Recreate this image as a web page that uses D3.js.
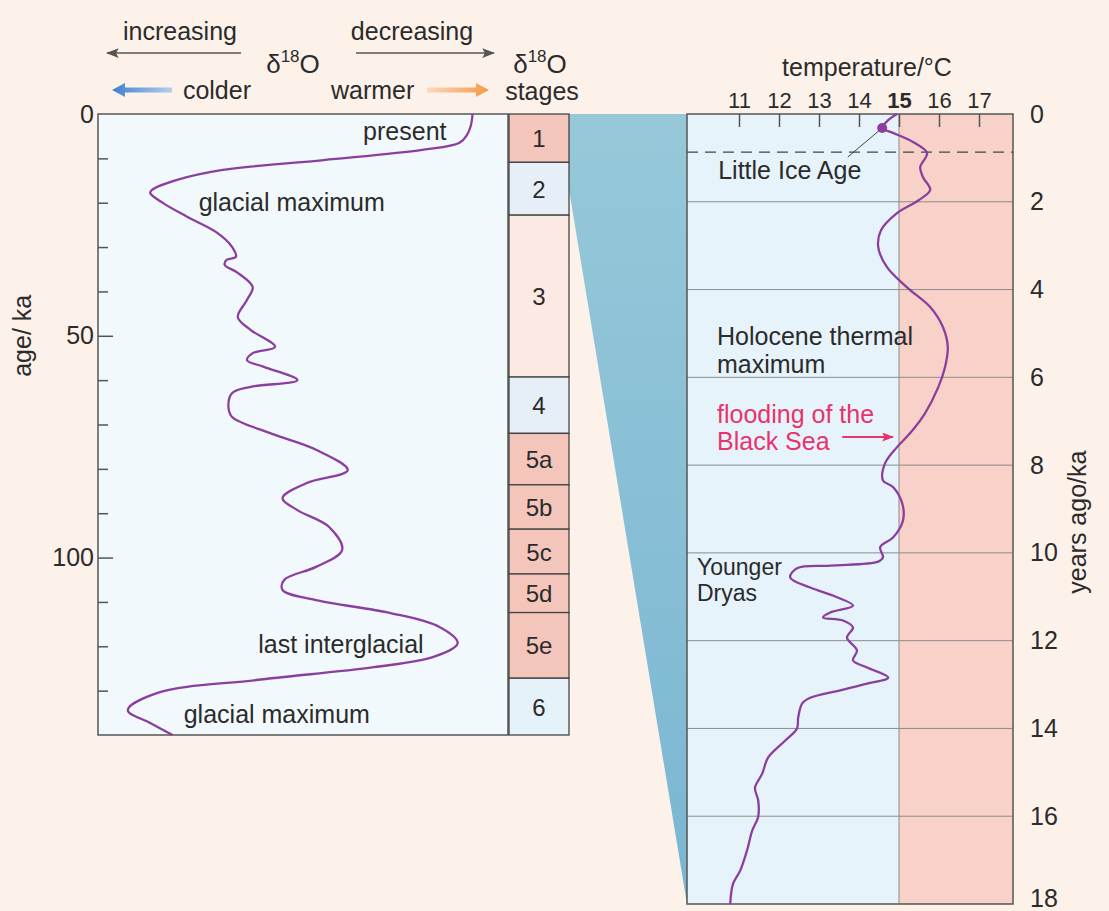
<!DOCTYPE html>
<html>
<head>
<meta charset="utf-8">
<script src="https://cdn.jsdelivr.net/npm/d3@7"></script>
<style>
  body { margin: 0; background: #fdf3eb; }
  text { font-family: "Liberation Sans", Arial, sans-serif; fill: #2b2b2b; }
</style>
</head>
<body>
<div id="chart"></div>
<script>
// SVG size
var svgWidth = 1109;
var svgHeight = 911;

// Left panel: d18O record, age in ka vs delta18O (arbitrary per mil scale)
var o18Age = [0, 2.7, 4.7, 6.5, 8.1, 10.4, 12.6, 14.9, 17.1, 17.8, 20.1, 23.2, 26.8, 30.0, 32.2, 32.9, 34.0, 35.8,
  39.0, 41.9, 45.8, 48.7, 52.5, 53.9, 55.5, 57.0, 60.0, 61.5, 62.9, 66.1, 68.3, 71.9, 75.7, 80.3, 83.2, 86.6,
  89.3, 93.1, 98.3, 102.1, 105.0, 107.3, 109.6, 112.5, 115.6, 119.3, 122.4, 124.7, 127.6, 130.5, 134.4, 137.3, 140];
var o18Value = [3.19, 3.20, 3.22, 3.26, 3.46, 3.99, 4.53, 4.78, 4.91, 4.92, 4.85, 4.72, 4.56, 4.48, 4.46, 4.51, 4.52, 4.45,
  4.37, 4.40, 4.45, 4.38, 4.25, 4.37, 4.40, 4.31, 4.13, 4.38, 4.48, 4.50, 4.48, 4.28, 4.03, 3.86, 4.08, 4.21,
  4.13, 3.96, 3.89, 4.03, 4.20, 4.21, 4.03, 3.63, 3.37, 3.27, 3.40, 3.72, 4.35, 4.88, 5.04, 4.92, 4.80];

// Marine isotope stages
var stageNames = ["1", "2", "3", "4", "5a", "5b", "5c", "5d", "5e", "6"];
var stageStart = [0, 10.9, 22.8, 59.3, 72, 83.6, 93.6, 103.7, 112.4, 127.2];
var stageEnd = [10.9, 22.8, 59.3, 72, 83.6, 93.6, 103.7, 112.4, 127.2, 140];
var stageKind = ["warm", "cold", "mild", "cold", "warm", "warm", "warm", "warm", "warm", "cold6"];

// Right panel: temperature over the last 18 ka
var tempAge = [0, 0.14, 0.32, 0.43, 0.64, 0.89, 1.21, 1.44, 1.73, 1.96, 2.26, 2.65, 3.03, 3.49, 3.95, 4.4, 4.86,
  5.31, 5.77, 6.23, 6.82, 7.27, 7.59, 7.96, 8.35, 8.5, 8.87, 9.26, 9.65, 9.87, 10.1, 10.2, 10.29, 10.35, 10.56,
  10.79, 11.01, 11.2, 11.36, 11.47, 11.54, 11.7, 11.93, 12.22, 12.45, 12.61, 12.84, 12.98, 13.13, 13.3, 13.43,
  13.75, 14.0, 14.28, 14.66, 15.03, 15.35, 15.64, 16.01, 16.33, 16.78, 17.24, 17.54, 18.0];
var tempValue = [14.95, 14.73, 14.58, 14.85, 15.35, 15.7, 15.53, 15.6, 15.78, 15.5, 14.95, 14.55, 14.48, 14.7, 15.2, 15.78, 16.1,
  16.22, 16.15, 15.98, 15.65, 15.28, 14.95, 14.65, 14.6, 14.85, 15.08, 15.1, 14.85, 14.53, 14.6, 14.48, 13.28, 12.45, 12.28,
  12.78, 13.45, 13.85, 13.28, 13.1, 13.6, 13.85, 13.7, 13.95, 13.85, 14.2, 14.73, 14.2, 13.53, 12.78, 12.58,
  12.48, 12.45, 12.15, 11.73, 11.58, 11.4, 11.48, 11.48, 11.33, 11.2, 11.03, 10.85, 10.78];

var tempTicks = [11, 12, 13, 14, 15, 16, 17];
var kaTicks = [0, 2, 4, 6, 8, 10, 12, 14, 16, 18];
var ageTicksMajor = [0, 50, 100];
var ageTicksMinor = [10, 20, 30, 40, 60, 70, 80, 90, 110, 120, 130];

// Little Ice Age marker and Black Sea flooding
var liaAge = 0.32, liaTemp = 14.58, liaBoundary = 0.87;
var floodAge = 7.36;
var zoomAge = 17;

var purple = "#8a3f9f";
var red = "#e8336b";
var fontSize = 25;

var svg = d3.select("#chart")
  .append("svg")
  .attr("width", svgWidth)
  .attr("height", svgHeight);

svg.append("rect")
  .attr("width", svgWidth)
  .attr("height", svgHeight)
  .attr("fill", "#fdf2ea");

var defs = svg.append("defs");
var grad = defs.append("linearGradient")
  .attr("id", "wedge")
  .attr("x1", 0).attr("y1", 0).attr("x2", 0).attr("y2", 1);
grad.append("stop").attr("offset", "0%").attr("stop-color", "#96c8d9");
grad.append("stop").attr("offset", "100%").attr("stop-color", "#7ab6d2");

var arrowDefs = [["arrowGray", "#555", 13], ["arrowRed", red, 12]];
arrowDefs.forEach(function (a) {
  defs.append("marker")
    .attr("id", a[0])
    .attr("viewBox", "0 0 10 10")
    .attr("refX", 9).attr("refY", 5)
    .attr("markerWidth", a[2]).attr("markerHeight", a[2] * 0.75)
    .attr("markerUnits", "userSpaceOnUse")
    .attr("orient", "auto")
    .attr("preserveAspectRatio", "none")
    .append("path")
    .attr("d", "M0,0 L10,5 L0,10 L2,5 Z")
    .attr("fill", a[1]);
});

// ---------- scales ----------
var yAge = d3.scaleLinear().domain([0, 140]).range([114, 735]);
var xO = d3.scaleLinear().domain([5.2, 3.0]).range([98, 508]);
var stageX0 = 509, stageX1 = 569;

var yKa = d3.scaleLinear().domain([0, 18]).range([114, 904]);
var xT = d3.scaleLinear().domain([11, 17]).range([739, 979]);
var tMin = 9.7, tMax = 17.85;

// ---------- zoom wedge ----------
svg.append("path")
  .attr("d", "M" + stageX1 + "," + yAge(0) +
    " L" + xT(tMin) + "," + yKa(0) +
    " L" + xT(tMin) + "," + yKa(18) +
    " L" + stageX1 + "," + yAge(zoomAge) + " Z")
  .attr("fill", "url(#wedge)");

// ---------- left panel ----------
var left = svg.append("g");

left.append("rect")
  .attr("x", xO(5.2))
  .attr("y", yAge(0))
  .attr("width", xO(3.0) - xO(5.2))
  .attr("height", yAge(140) - yAge(0))
  .attr("fill", "#f2f9fc")
  .attr("stroke", "#555")
  .attr("stroke-width", 1.5);

var minorAxis = left.append("g")
  .attr("transform", `translate(${xO(5.2)},0)`)
  .call(d3.axisLeft(yAge).tickValues(ageTicksMinor).tickSize(-10).tickFormat(""));
var majorAxis = left.append("g")
  .attr("transform", `translate(${xO(5.2)},0)`)
  .call(d3.axisLeft(yAge).tickValues(ageTicksMajor).tickSize(-15).tickPadding(4));
[minorAxis, majorAxis].forEach(function (ax) {
  ax.select(".domain").remove();
  ax.selectAll("line").attr("stroke", "#555").attr("stroke-width", 1.5);
  ax.selectAll("text").attr("font-size", fontSize).attr("fill", "#2b2b2b")
    .attr("font-family", "Liberation Sans, Arial, sans-serif");
});
majorAxis.selectAll(".tick").filter(d => d === 0).select("line").remove();

left.append("text")
  .attr("transform", `translate(31,${yAge(50)}) rotate(-90)`)
  .attr("text-anchor", "middle")
  .attr("font-size", fontSize)
  .text("age/ ka");

var o18Data = o18Age.map((a, i) => ({ age: a, v: o18Value[i] }));
var o18Line = d3.line()
  .x(d => xO(d.v))
  .y(d => yAge(d.age))
  .curve(d3.curveCatmullRom.alpha(0.5));

left.append("path")
  .datum(o18Data)
  .attr("d", o18Line)
  .attr("fill", "none")
  .attr("stroke", purple)
  .attr("stroke-width", 2.3);

var leftNotes = [
  ["present", 3.33, 5.9, "end"],
  ["glacial maximum", 4.66, 21.9, "start"],
  ["last interglacial", 4.34, 121.5, "start"],
  ["glacial maximum", 4.74, 137.3, "start"]
];
left.selectAll(".note")
  .data(leftNotes)
  .enter()
  .append("text")
  .attr("x", d => xO(d[1]))
  .attr("y", d => yAge(d[2]))
  .attr("text-anchor", d => d[3])
  .attr("font-size", fontSize)
  .text(d => d[0]);

// ---------- stages ----------
var stageColors = { warm: "#f3c5bb", cold: "#e6eef8", mild: "#fde9e4", cold6: "#e6f2f9" };
var stages = svg.append("g");
stages.selectAll("rect")
  .data(stageNames)
  .enter()
  .append("rect")
  .attr("x", stageX0)
  .attr("y", (d, i) => yAge(stageStart[i]))
  .attr("width", stageX1 - stageX0)
  .attr("height", (d, i) => yAge(stageEnd[i]) - yAge(stageStart[i]))
  .attr("fill", (d, i) => stageColors[stageKind[i]])
  .attr("stroke", "#444")
  .attr("stroke-width", 1.3);
stages.selectAll("text")
  .data(stageNames)
  .enter()
  .append("text")
  .attr("x", (stageX0 + stageX1) / 2)
  .attr("y", (d, i) => (yAge(stageStart[i]) + yAge(stageEnd[i])) / 2 + 9)
  .attr("text-anchor", "middle")
  .attr("font-size", 24)
  .text(d => d);

// ---------- header of left panel ----------
var head = svg.append("g");
head.append("text").attr("x", 180).attr("y", 40).attr("text-anchor", "middle")
  .attr("font-size", fontSize).text("increasing");
head.append("text").attr("x", 412).attr("y", 40).attr("text-anchor", "middle")
  .attr("font-size", fontSize).text("decreasing");
head.append("line").attr("x1", 241).attr("x2", 107).attr("y1", 53).attr("y2", 53)
  .attr("stroke", "#555").attr("stroke-width", 1.6).attr("marker-end", "url(#arrowGray)");
head.append("line").attr("x1", 356).attr("x2", 494).attr("y1", 53).attr("y2", 53)
  .attr("stroke", "#555").attr("stroke-width", 1.6).attr("marker-end", "url(#arrowGray)");

var d18 = function (g, x, y) {
  var t = g.append("text").attr("x", x).attr("y", y).attr("text-anchor", "middle").attr("font-size", 26);
  t.append("tspan").text("δ");
  t.append("tspan").attr("font-size", 17).attr("dy", -11).text("18");
  t.append("tspan").attr("dy", 11).text("O");
};
d18(head, 293, 73);
d18(head, 540, 73);
head.append("text").attr("x", 542).attr("y", 100).attr("text-anchor", "middle")
  .attr("font-size", fontSize).text("stages");
head.append("text").attr("x", 251).attr("y", 99).attr("text-anchor", "end")
  .attr("font-size", fontSize).text("colder");
head.append("text").attr("x", 331).attr("y", 99).attr("text-anchor", "start")
  .attr("font-size", fontSize).text("warmer");

var cg = defs.append("linearGradient").attr("id", "cold");
cg.append("stop").attr("offset", "0%").attr("stop-color", "#3f7fd0");
cg.append("stop").attr("offset", "100%").attr("stop-color", "#b5d0ee");
var wg = defs.append("linearGradient").attr("id", "warm");
wg.append("stop").attr("offset", "0%").attr("stop-color", "#fbd8bb");
wg.append("stop").attr("offset", "100%").attr("stop-color", "#f39a4a");
head.append("path").attr("d", "M112,90 L125,83 L125,87.5 L172,87.5 L172,92.5 L125,92.5 L125,97 Z").attr("fill", "url(#cold)");
head.append("path").attr("d", "M489,90 L476,83 L476,87.5 L427,87.5 L427,92.5 L476,92.5 L476,97 Z").attr("fill", "url(#warm)");

// ---------- right panel ----------
var right = svg.append("g");

right.append("rect")
  .attr("x", xT(tMin)).attr("y", yKa(0))
  .attr("width", xT(15) - xT(tMin)).attr("height", yKa(18) - yKa(0))
  .attr("fill", "#e6f3fb");
right.append("rect")
  .attr("x", xT(15)).attr("y", yKa(0))
  .attr("width", xT(tMax) - xT(15)).attr("height", yKa(18) - yKa(0))
  .attr("fill", "#f8d1c8");

// grid lines every 2 ka
right.selectAll(".grid")
  .data(kaTicks.filter(d => d > 0 && d < 18))
  .enter()
  .append("line")
  .attr("x1", xT(tMin)).attr("x2", xT(tMax))
  .attr("y1", d => yKa(d)).attr("y2", d => yKa(d))
  .attr("stroke", "#8c8c8c").attr("stroke-width", 1);

right.append("line")
  .attr("x1", xT(15)).attr("x2", xT(15))
  .attr("y1", yKa(0)).attr("y2", yKa(18))
  .attr("stroke", "#8c8c8c").attr("stroke-width", 1);

right.append("line")
  .attr("x1", xT(tMin)).attr("x2", xT(tMax))
  .attr("y1", yKa(liaBoundary)).attr("y2", yKa(liaBoundary))
  .attr("stroke", "#444").attr("stroke-width", 1.2)
  .attr("stroke-dasharray", "11,7");

right.append("rect")
  .attr("x", xT(tMin)).attr("y", yKa(0))
  .attr("width", xT(tMax) - xT(tMin)).attr("height", yKa(18) - yKa(0))
  .attr("fill", "none")
  .attr("stroke", "#555").attr("stroke-width", 1.5);

var topAxis = right.append("g")
  .attr("transform", `translate(0,${yKa(0)})`)
  .call(d3.axisTop(xT).tickValues(tempTicks).tickSize(-13).tickPadding(6).tickFormat(d3.format("d")));
topAxis.select(".domain").remove();
topAxis.selectAll("line").attr("stroke", "#555").attr("stroke-width", 1.5);
topAxis.selectAll("text").attr("font-size", 22).attr("fill", "#2b2b2b")
  .attr("font-family", "Liberation Sans, Arial, sans-serif")
  .attr("font-weight", d => d === 15 ? "bold" : "normal");

right.append("text").attr("x", xT(14.2)).attr("y", 76).attr("text-anchor", "middle")
  .attr("font-size", fontSize).text("temperature/°C");

var rightAxis = right.append("g")
  .attr("transform", `translate(${xT(tMax)},0)`)
  .call(d3.axisRight(yKa).tickValues(kaTicks).tickSize(0).tickPadding(17));
rightAxis.select(".domain").remove();
rightAxis.selectAll("text").attr("font-size", fontSize).attr("fill", "#2b2b2b")
  .attr("font-family", "Liberation Sans, Arial, sans-serif");
rightAxis.selectAll(".tick").filter(d => d === 18).select("text").attr("dy", "0.1em");

right.append("text")
  .attr("transform", `translate(1086,${yKa(9.3)}) rotate(-90)`)
  .attr("text-anchor", "middle")
  .attr("font-size", fontSize)
  .text("years ago/ka");

var tempData = tempAge.map((a, i) => ({ age: a, t: tempValue[i] }));
var tempLine = d3.line()
  .x(d => xT(d.t))
  .y(d => yKa(d.age))
  .curve(d3.curveCatmullRom.alpha(0.5));

right.append("path")
  .datum(tempData)
  .attr("d", tempLine)
  .attr("fill", "none")
  .attr("stroke", purple)
  .attr("stroke-width", 2.3);

// Little Ice Age dot and leader
right.append("line")
  .attr("x1", xT(liaTemp)).attr("y1", yKa(liaAge))
  .attr("x2", xT(13.72)).attr("y2", yKa(0.98))
  .attr("stroke", "#444").attr("stroke-width", 1);
right.append("circle")
  .attr("cx", xT(liaTemp)).attr("cy", yKa(liaAge))
  .attr("r", 5).attr("fill", purple);

var rightNotes = [
  ["Little Ice Age", 10.48, 1.47, "#2b2b2b", 25],
  ["Holocene thermal", 10.45, 5.27, "#2b2b2b", 25],
  ["maximum", 10.45, 5.9, "#2b2b2b", 25],
  ["flooding of the", 10.45, 7.03, red, 25],
  ["Black Sea", 10.45, 7.66, red, 25],
  ["Younger", 9.95, 10.5, "#2b2b2b", 23],
  ["Dryas", 9.95, 11.1, "#2b2b2b", 23]
];
right.selectAll(".rnote")
  .data(rightNotes)
  .enter()
  .append("text")
  .attr("x", d => xT(d[1]))
  .attr("y", d => yKa(d[2]))
  .attr("font-size", d => d[4])
  .style("fill", d => d[3])
  .text(d => d[0]);

right.append("line")
  .attr("x1", xT(13.58)).attr("x2", xT(14.85))
  .attr("y1", yKa(floodAge)).attr("y2", yKa(floodAge))
  .attr("stroke", red).attr("stroke-width", 2)
  .attr("marker-end", "url(#arrowRed)");
</script>
</body>
</html>
